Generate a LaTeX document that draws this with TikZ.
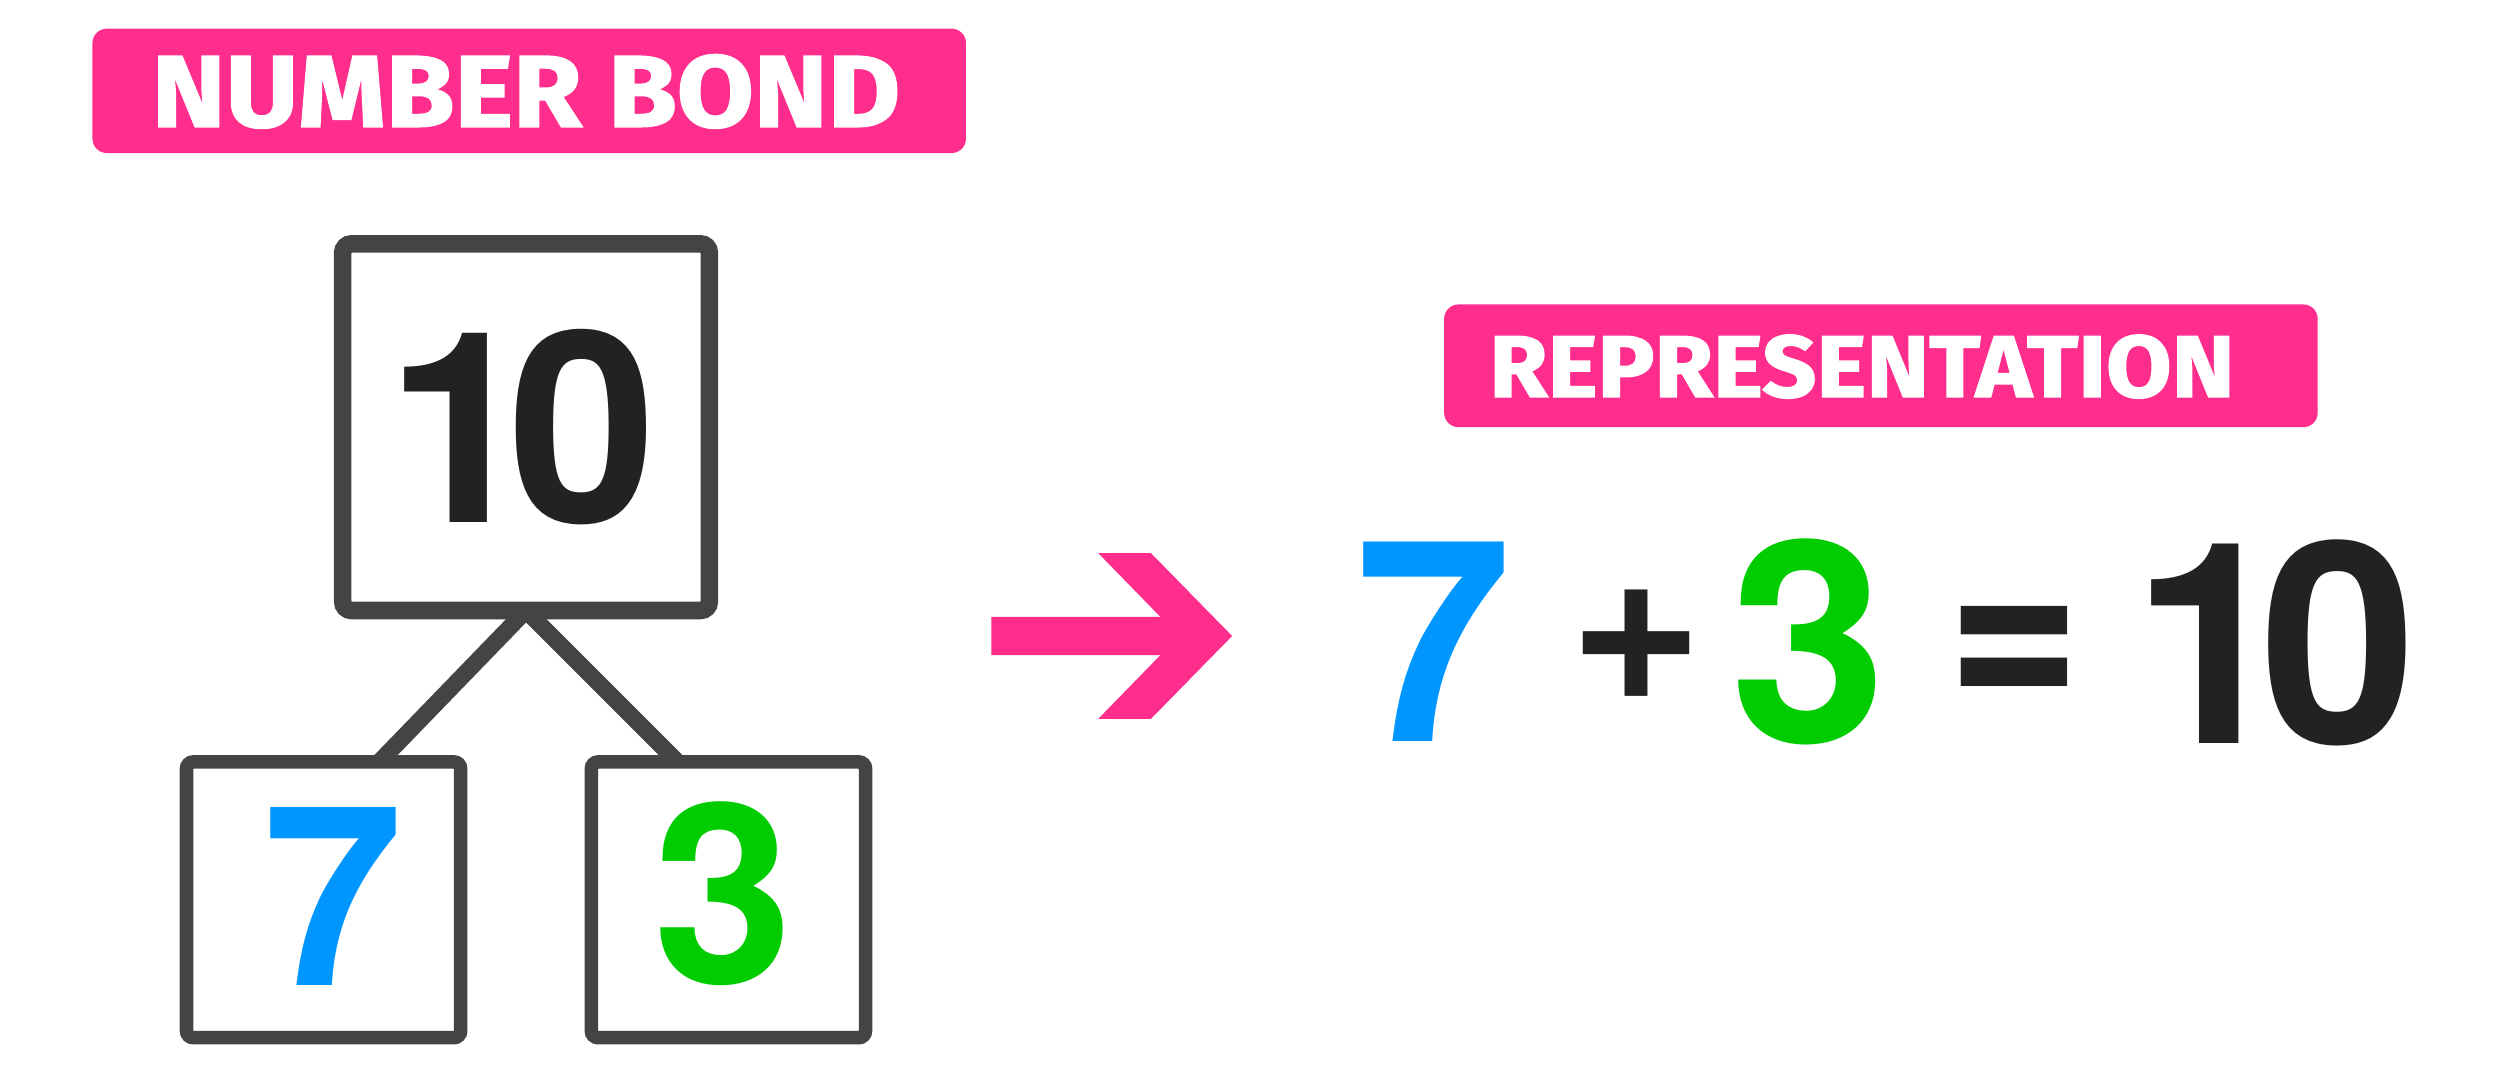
\documentclass[tikz,border=0pt]{standalone}
\usepackage{fontspec}
\setmainfont{TeX Gyre Heros}
\newfontfamily\labelfont[BoldFeatures={FakeBold=1.6}]{Fira Sans}
\usetikzlibrary{calc}
\definecolor{bondpink}{HTML}{FF2E8C}
\definecolor{sevenblue}{HTML}{0096FF}
\definecolor{threegreen}{HTML}{00CC00}
\definecolor{inkdark}{HTML}{222222}
\definecolor{boxgray}{HTML}{444444}
\def\pu{0.6378pt}
\newcommand{\tightten}{1\kern-0.1em 0}
\begin{document}
\begin{tikzpicture}[x=0.6378pt,y=-0.6378pt,
  labelbox/.style={fill=bondpink, draw=none, rounded corners=9*\pu, inner sep=0pt, outer sep=0pt},
  labeltext/.style={text=white, inner sep=0pt, anchor=base, font=\labelfont\bfseries\fontsize{#1}{#1}\selectfont},
  bigbox/.style={draw=boxgray, line width=11*\pu, rounded corners=5.5*\pu, fill=white, inner sep=0pt, outer sep=0pt, minimum width=230*\pu, minimum height=230*\pu},
  smallbox/.style={draw=boxgray, line width=8.5*\pu, rounded corners=4.25*\pu, fill=white, inner sep=0pt, outer sep=0pt, minimum width=172*\pu, minimum height=173*\pu},
  numtext/.style={inner sep=0pt, anchor=base, font=\bfseries\fontsize{#1}{#1}\selectfont},
  symtext/.style={inner sep=0pt, anchor=center, text=inkdark, font=\bfseries\fontsize{#1}{#1}\selectfont},
  connector/.style={draw=boxgray, line width=10.5*\pu},
]
\useasboundingbox (0,0) rectangle (1568.4,678.8);
\fill[white] (0,0) rectangle (1568.4,678.8);

% labels
\node[labelbox, minimum width=548*\pu, minimum height=78*\pu] (nbbox) at (332,57) {};
\node[labeltext=40.7pt] (nbtext) at (330,79.5) {\scalebox{1.095}[1]{NUMBER BOND}};
\node[labelbox, minimum width=548*\pu, minimum height=77*\pu] (repbox) at (1180,229.5) {};
\node[labeltext=35pt] (reptext) at (1168,249) {\scalebox{1.085}[1]{REPRESENTATION}};

% coordinates for the connector ends, then connectors, then boxes on top
\coordinate (apex) at (330,383);
\coordinate (leftend) at (238,478);
\coordinate (rightend) at (425,478);
\draw[connector] (leftend) -- (apex) -- (rightend);
\node[bigbox] (big) at (330,268) {};
\node[smallbox] (left) at (203,564.5) {};
\node[smallbox] (right) at (457,564.5) {};

% numbers in boxes
\node[numtext=106.8pt, text=inkdark] (ten) at (327.5,328) {\tightten};
\node[numtext=100.5pt, text=sevenblue] (seven) at (209,618) {7};
\node[numtext=100.5pt, text=threegreen] (three) at (453.5,617) {3};

% arrow
\fill[bondpink] (622,387) -- (728,387) -- (689,347) -- (722,347) -- (773,399) -- (722,451) -- (689,451) -- (728,411) -- (622,411) -- cycle;

% equation
\node[numtext=112.6pt, text=sevenblue] (eqseven) at (899.2,465.4) {7};
\node[symtext=91.8pt] (eqplus) at (1026.4,404.6) {+};
\node[numtext=112.6pt, text=threegreen] (eqthree) at (1134.4,465.9) {3};
\node[symtext=91.7pt] (eqeq) at (1263.7,415) {\scalebox{1}[1.24]{=}};
\node[numtext=112.6pt, text=inkdark] (eqten) at (1427,466.3) {\tightten};
\end{tikzpicture}
\end{document}
